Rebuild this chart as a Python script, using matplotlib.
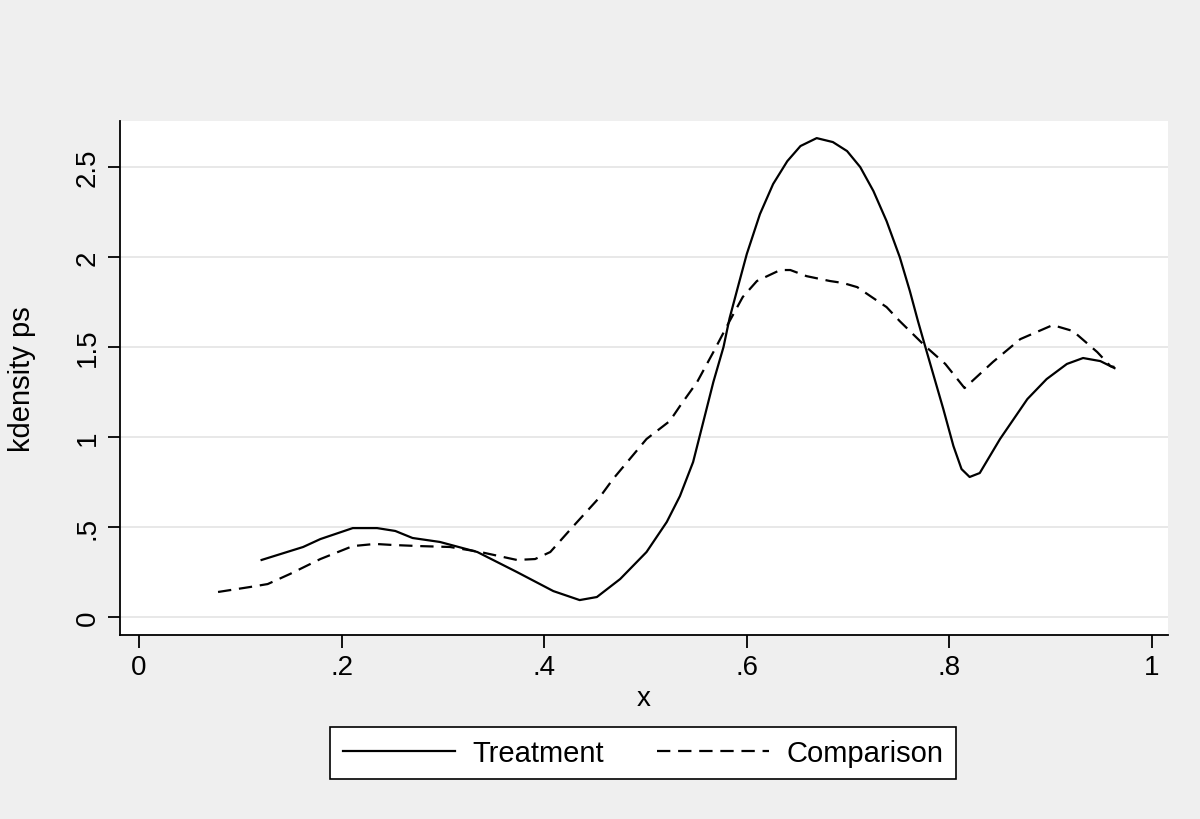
import matplotlib
matplotlib.use("Agg")
import matplotlib.pyplot as plt

plt.rcParams['font.family'] = ['Liberation Sans', 'DejaVu Sans']

# kernel density of propensity score
treat_x = [0.121, 0.162, 0.179, 0.211, 0.235, 0.253, 0.270, 0.297, 0.334, 0.373,
           0.409, 0.435, 0.452, 0.475, 0.501, 0.521, 0.534, 0.547, 0.557, 0.567,
           0.577, 0.583, 0.592, 0.600, 0.613, 0.626, 0.640, 0.653, 0.669, 0.685,
           0.699, 0.712, 0.725, 0.738, 0.751, 0.761, 0.769, 0.776, 0.794, 0.804,
           0.812, 0.820, 0.830, 0.850, 0.877, 0.896, 0.916, 0.932, 0.949, 0.963]
treat_y = [0.317, 0.389, 0.433, 0.494, 0.494, 0.478, 0.439, 0.417, 0.361, 0.250,
           0.144, 0.094, 0.111, 0.211, 0.361, 0.528, 0.672, 0.861, 1.083, 1.306,
           1.500, 1.660, 1.850, 2.017, 2.239, 2.406, 2.533, 2.617, 2.661, 2.639,
           2.589, 2.500, 2.367, 2.200, 2.000, 1.811, 1.644, 1.506, 1.156, 0.950,
           0.822, 0.778, 0.800, 0.989, 1.211, 1.322, 1.406, 1.439, 1.422, 1.383]

comp_x = [0.078, 0.110, 0.127, 0.149, 0.179, 0.211, 0.233, 0.251, 0.277, 0.307,
          0.337, 0.373, 0.391, 0.406, 0.428, 0.455, 0.468, 0.501, 0.524, 0.534,
          0.551, 0.567, 0.583, 0.596, 0.610, 0.633, 0.643, 0.659, 0.682, 0.695,
          0.709, 0.722, 0.738, 0.751, 0.776, 0.796, 0.815, 0.843, 0.870, 0.902,
          0.922, 0.946, 0.959, 0.963]
comp_y = [0.139, 0.167, 0.183, 0.239, 0.322, 0.394, 0.406, 0.400, 0.394, 0.389,
          0.361, 0.317, 0.322, 0.361, 0.500, 0.667, 0.767, 0.989, 1.089, 1.172,
          1.306, 1.472, 1.644, 1.778, 1.867, 1.928, 1.928, 1.894, 1.867, 1.856,
          1.833, 1.783, 1.722, 1.644, 1.506, 1.406, 1.272, 1.417, 1.544, 1.622,
          1.589, 1.472, 1.394, 1.389]

xticks = [0, 0.2, 0.4, 0.6, 0.8, 1]
xlabels = ["0", ".2", ".4", ".6", ".8", "1"]
yticks = [0, 0.5, 1, 1.5, 2, 2.5]
ylabels = ["0", ".5", "1", "1.5", "2", "2.5"]

bg = '#EFEFEF'
fig = plt.figure(figsize=(12, 8.2), dpi=100, facecolor=bg)
ax = fig.add_axes([0.1, 0.2244, 0.8733, 0.6268])
ax.set_facecolor('white')

ax.plot(treat_x, treat_y, color='black', lw=1.6, label='Treatment')
ax.plot(comp_x, comp_y, color='black', lw=1.6, dashes=(6, 3.5), label='Comparison')

ax.set_xlim(-0.0188, 1.0158)
ax.set_ylim(-0.1, 2.756)
ax.set_xticks(xticks)
ax.set_xticklabels(xlabels)
ax.set_yticks(yticks)
ax.set_yticklabels(ylabels, rotation=90, va='center')
ax.tick_params(direction='out', length=9, width=1.3, labelsize=20, pad=5)
ax.yaxis.grid(True, color='#E4E4E4', lw=1.2)
ax.set_axisbelow(True)

for s in ['top', 'right']:
    ax.spines[s].set_visible(False)
for s in ['left', 'bottom']:
    ax.spines[s].set_linewidth(1.3)

ax.set_xlabel('x', fontsize=20, labelpad=3)
ax.set_ylabel('kdensity ps', fontsize=21, labelpad=28)

leg = fig.legend(loc='center', bbox_to_anchor=(643 / 1200, 1 - 754 / 820), ncol=2,
                 fontsize=21, handlelength=3.85, handletextpad=0.6, columnspacing=1.8,
                 fancybox=False, edgecolor='black', framealpha=1, borderpad=0.42)
leg.get_frame().set_linewidth(1.2)

fig.savefig('out.png', dpi=100, facecolor=bg)
